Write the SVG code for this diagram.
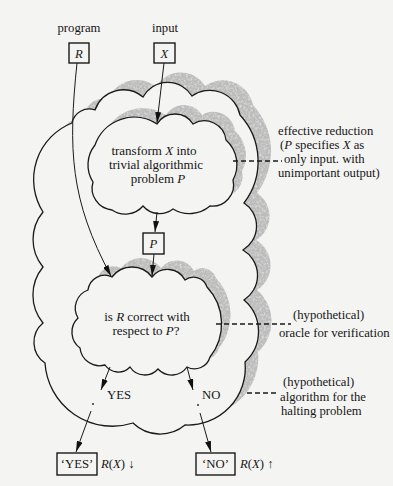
<svg xmlns="http://www.w3.org/2000/svg" width="393" height="486" viewBox="0 0 393 486">
  <style>
    .cloud { fill: #f4f4f2; stroke: #1a1a1a; stroke-width: 1.3; }
    .shadow { fill: #888; stroke: none; filter: url(#mottle); }
    .box { fill: #f4f4f2; stroke: #1a1a1a; stroke-width: 1.4; }
    .txt { font-family: 'Liberation Serif', 'Times New Roman', serif; font-size: 12.7px; fill: #161616; }
    .big { font-size: 13px; }
    .mid { text-anchor: middle; }
    .it { font-style: italic; }
    .conn { fill: none; stroke: #1a1a1a; stroke-width: 1; }
    .dash { fill: none; stroke: #1a1a1a; stroke-width: 1.3; stroke-dasharray: 5 3; }
  </style>
  <defs>
    <filter id="mottle" x="-5%" y="-5%" width="110%" height="110%">
      <feTurbulence type="fractalNoise" baseFrequency="0.45" numOctaves="2" seed="7" result="noise"/>
      <feColorMatrix in="noise" type="matrix" values="0 0 0 0 0.5  0 0 0 0 0.5  0 0 0 0 0.5  -1.5 0 0 0 1.65" result="spots"/>
      <feComposite in="spots" in2="SourceAlpha" operator="in"/>
    </filter>
    <marker id="ah" viewBox="0 0 11 6" refX="11" refY="3" markerWidth="11" markerHeight="6" markerUnits="userSpaceOnUse" orient="auto">
      <path d="M0,0 L11,3 L0,6 Z" fill="#111"/>
    </marker>
    <path id="outerShape" d="M72,123 A17.5,17.5 0 0 1 95,110 A30.3,30.3 0 0 1 143,97 A28.4,28.4 0 0 1 192,96 A30.8,30.8 0 0 1 240,115 A68.5,68.5 0 0 1 244,203 A27.7,27.7 0 0 1 243,250 A29.3,29.3 0 0 1 244,300 A41.3,41.3 0 0 1 245,362 A57.3,57.3 0 0 1 185,425 A38.8,38.8 0 0 1 133,423 A67.5,67.5 0 0 1 45,363 A25,25 0 0 1 43,323 A44,44 0 0 1 43,267 A43,43 0 0 1 43,212 A60.8,60.8 0 0 1 72,123 Z"/>
    <path id="transformShape" d="M95,145 A41.5,41.5 0 0 1 157,124 A21.2,21.2 0 0 1 193,124 A21.8,21.8 0 0 1 226,140 A32.9,32.9 0 0 1 233,180 A21.2,21.2 0 0 1 210,206 A31.7,31.7 0 0 1 173,209 A21.9,21.9 0 0 1 143,206 A23.4,23.4 0 0 1 112,210 A21.9,21.9 0 0 1 93,182 A31.7,31.7 0 0 1 95,145 Z"/>
    <path id="oracleShape" d="M88,290 A16.8,16.8 0 0 1 112,277 A25,25 0 0 1 152,277 A19.7,19.7 0 0 1 185,280 A14.1,14.1 0 0 1 207,287 A53.7,53.7 0 0 1 210,357 A16.1,16.1 0 0 1 187,367 A18.6,18.6 0 0 1 158,369 A17.6,17.6 0 0 1 130,367 A16.1,16.1 0 0 1 105,365 A19.8,19.8 0 0 1 80,348 A19.6,19.6 0 0 1 78,318 A19.3,19.3 0 0 1 88,290 Z"/>
  </defs>

  <rect x="0" y="0" width="393" height="486" fill="#f4f4f2"/>

  <g id="node-halting">
    <use href="#outerShape" class="shadow" transform="translate(13,-10)"/>
    <use href="#outerShape" class="cloud"/>
    <text class="txt" x="283" y="386">(hypothetical)</text>
    <text class="txt" x="280" y="401">algorithm for the</text>
    <text class="txt" x="281" y="415">halting problem</text>
  </g>

  <g id="node-transform">
    <use href="#transformShape" class="shadow" transform="translate(9,-9)"/>
    <use href="#transformShape" class="cloud"/>
    <text class="txt big mid" x="154" y="155">transform <tspan class="it">X</tspan> into</text>
    <text class="txt big mid" x="156" y="169">trivial algorithmic</text>
    <text class="txt big mid" x="158" y="183">problem <tspan class="it">P</tspan></text>
    <text class="txt" x="278" y="135">effective reduction</text>
    <text class="txt" x="280" y="149">(<tspan class="it">P</tspan> specifies <tspan class="it">X</tspan> as</text>
    <text class="txt" x="284" y="163">only input. with</text>
    <text class="txt" x="278" y="177">unimportant output)</text>
  </g>

  <g id="node-oracle">
    <use href="#oracleShape" class="shadow" transform="translate(9,-9)"/>
    <use href="#oracleShape" class="cloud"/>
    <text class="txt big mid" x="147" y="321">is <tspan class="it">R</tspan> correct with</text>
    <text class="txt big mid" x="146" y="335">respect to <tspan class="it">P</tspan>?</text>
    <text class="txt" x="293" y="319">(hypothetical)</text>
    <text class="txt" x="279" y="337">oracle for verification</text>
  </g>

  <g id="node-R">
    <text class="txt mid" x="79" y="32">program</text>
    <rect class="box" x="69" y="43" width="20" height="20"/>
    <text class="txt mid it" x="79" y="58">R</text>
  </g>

  <g id="node-X">
    <text class="txt mid" x="165" y="32">input</text>
    <rect class="box" x="154" y="43" width="21" height="20"/>
    <text class="txt mid it" x="164.5" y="58">X</text>
  </g>

  <g id="node-P">
    <rect class="box" x="143" y="233" width="21" height="21"/>
    <text class="txt mid it" x="153.5" y="248">P</text>
  </g>

  <g id="node-yes">
    <rect class="box" x="57" y="453" width="40" height="22"/>
    <text class="txt mid" x="77" y="468">‘YES’</text>
    <text class="txt" x="101" y="468"><tspan class="it">R</tspan>(<tspan class="it">X</tspan>) ↓</text>
  </g>

  <g id="node-no">
    <rect class="box" x="196" y="453" width="39" height="22"/>
    <text class="txt mid" x="215.5" y="468">‘NO’</text>
    <text class="txt" x="240" y="468"><tspan class="it">R</tspan>(<tspan class="it">X</tspan>) ↑</text>
  </g>

  <g id="connectors">
    <path class="conn" d="M77,63 C68,150 70,200 111,276" marker-end="url(#ah)"/>
    <path class="conn" d="M164,63 L157,123" marker-end="url(#ah)"/>
    <path class="conn" d="M157,212 L155,232" marker-end="url(#ah)"/>
    <path class="conn" d="M154,254 L152,276" marker-end="url(#ah)"/>
    <path class="conn" d="M110,367 L101,390" marker-end="url(#ah)"/>
    <text class="txt" x="107" y="399">YES</text>
    <circle cx="93" cy="404" r="0.9" fill="#1a1a1a"/>
    <path class="conn" d="M91,411 L76,452" marker-end="url(#ah)"/>
    <path class="conn" d="M187,367 L193,390" marker-end="url(#ah)"/>
    <text class="txt" x="202" y="399">NO</text>
    <circle cx="198" cy="405" r="0.9" fill="#1a1a1a"/>
    <path class="conn" d="M200,413 L211,452" marker-end="url(#ah)"/>
    <path class="dash" d="M233,161 L282,161"/>
    <path class="dash" d="M216,324 L291,324"/>
    <path class="dash" d="M247,393 L279,393"/>
  </g>
</svg>
